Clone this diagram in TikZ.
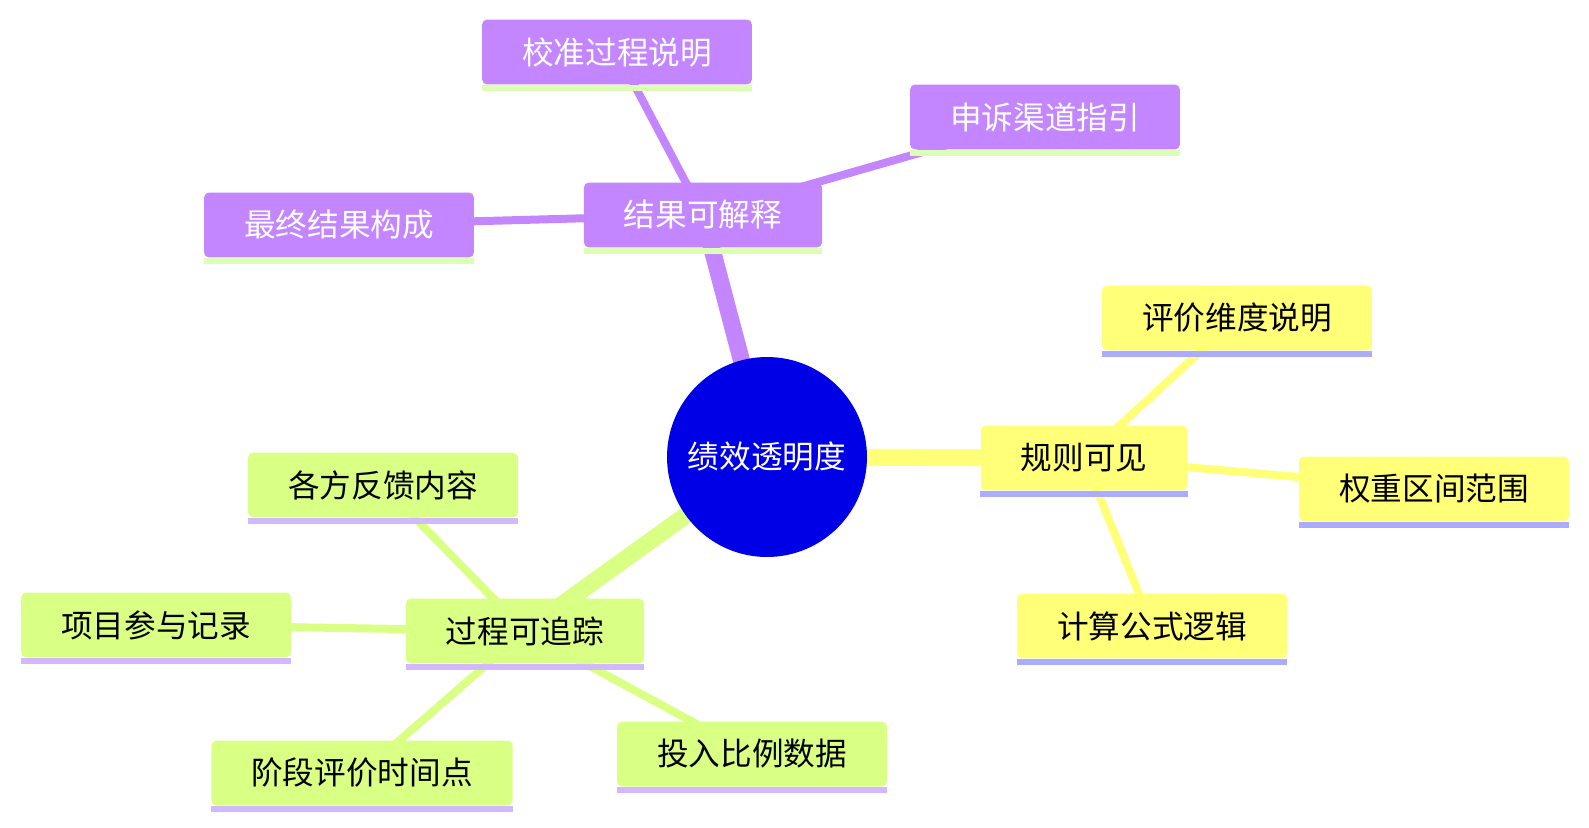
\documentclass[tikz,border=0pt]{standalone}
\usepackage{fontspec}
\newfontfamily\cjk{Noto Sans CJK SC}
\usetikzlibrary{backgrounds}

\definecolor{purp}{HTML}{C386FF}
\definecolor{yell}{HTML}{FFFF78}
\definecolor{gren}{HTML}{DAFF85}
\definecolor{hub}{HTML}{0000E6}
\definecolor{ulP}{HTML}{DCFFB5}
\definecolor{ulY}{HTML}{ACACFF}
\definecolor{ulG}{HTML}{D2B8FF}

\begin{document}
\begin{tikzpicture}[x=0.02cm,y=-0.02cm,
  box/.style={rounded corners=0.1cm, minimum height=1.3cm, inner xsep=0.8cm,
    font=\cjk\fontsize{18}{22}\selectfont},
  pbox/.style={box, fill=purp, text=white},
  ybox/.style={box, fill=yell, text=black},
  gbox/.style={box, fill=gren, text=black},
  trunk/.style={line width=0.34cm},
  twig/.style={line width=0.16cm}]

% --- Canvas (pixel units, y going down) ---
\useasboundingbox (0,0) rectangle (1589,828);

% --- Centre ---
\node[circle, fill=hub, text=white, minimum size=4cm, inner sep=0pt,
  font=\cjk\fontsize{18}{22}\selectfont] (hub) at (767,457) {绩效透明度};

% --- Branch: results ---
\node[pbox] (res) at (703,215) {结果可解释};
\node[pbox] (cal) at (617,52) {校准过程说明};
\node[pbox] (app) at (1045,117) {申诉渠道指引};
\node[pbox] (fin) at (339,225) {最终结果构成};

% --- Branch: rules ---
\node[ybox] (rul) at (1084,458) {规则可见};
\node[ybox] (dim) at (1237,318) {评价维度说明};
\node[ybox] (wgt) at (1434,489) {权重区间范围};
\node[ybox] (frm) at (1152,626) {计算公式逻辑};

% --- Branch: process ---
\node[gbox] (prc) at (525,631) {过程可追踪};
\node[gbox] (fb)  at (383,485) {各方反馈内容};
\node[gbox] (prj) at (156,625) {项目参与记录};
\node[gbox] (stg) at (362,773) {阶段评价时间点};
\node[gbox] (inp) at (752,754) {投入比例数据};

% --- Underlines ---
\foreach \n/\c in {res/ulP,cal/ulP,app/ulP,fin/ulP,
                   rul/ulY,dim/ulY,wgt/ulY,frm/ulY,
                   prc/ulG,fb/ulG,prj/ulG,stg/ulG,inp/ulG}
  \fill[\c] (\n.south west) rectangle ([yshift=-0.12cm]\n.south east);

% --- Connectors (behind the nodes) ---
\begin{pgfonlayer}{background}
  \draw[trunk, purp] (hub.center) -- (res.center);
  \draw[trunk, yell] (hub.center) -- (rul.center);
  \draw[trunk, gren] (hub.center) -- (prc.center);
  \foreach \n in {cal,app,fin}
    \draw[twig, purp] (res.center) -- (\n.center);
  \foreach \n in {dim,wgt,frm}
    \draw[twig, yell] (rul.center) -- (\n.center);
  \foreach \n in {fb,prj,stg,inp}
    \draw[twig, gren] (prc.center) -- (\n.center);
\end{pgfonlayer}

\end{tikzpicture}
\end{document}
